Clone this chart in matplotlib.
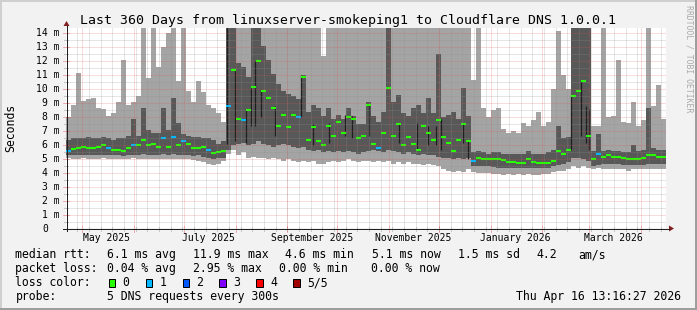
import datetime as dt
import numpy as np
import matplotlib
matplotlib.use("Agg")
import matplotlib.pyplot as plt
from matplotlib.patches import Rectangle, Polygon

plt.rcParams['font.family'] = 'DejaVu Sans Mono'

W, H = 697, 310
START = dt.datetime(2025, 4, 21, 13, 16, 27)
END = dt.datetime(2026, 4, 16, 13, 16, 27)
DAYS = 360
STEP = 3  # days per column in the arrays below

# smoke bands in ms: outer = min..max ping, inner = 2nd..4th ping
light_top = [7.9, 8.8, 11.1, 9.1, 9.2, 9.3, 8.6, 8.5, 8.0, 8.2,
             9.0, 12.0, 8.8, 9.0, 9.4, 14.3, 10.7, 14.3, 11.5, 12.9,
             13.9, 14.3, 10.5, 14.3, 9.8, 9.0, 10.5, 9.7, 8.8, 8.6,
             8.2, 7.6, 14.3, 14.3, 14.3, 14.3, 14.3, 14.3, 14.3, 14.3,
             14.3, 14.3, 14.3, 14.3, 14.3, 14.3, 14.3, 14.3, 14.3, 14.3,
             14.3, 12.3, 14.3, 14.3, 14.3, 14.3, 14.3, 14.3, 14.3, 14.3,
             14.3, 14.3, 14.3, 14.3, 14.3, 14.3, 14.3, 14.3, 14.3, 14.3,
             14.3, 14.3, 14.3, 14.3, 14.3, 14.3, 14.3, 14.3, 14.3, 14.3,
             14.3, 10.6, 14.3, 8.6, 7.9, 8.4, 8.6, 7.1, 6.8, 6.9,
             6.8, 7.5, 7.3, 7.7, 8.3, 7.3, 7.6, 9.9, 14.1, 10.9,
             9.9, 14.3, 14.3, 14.3, 14.3, 7.3, 7.3, 14.3, 7.9, 8.0,
             12.0, 7.6, 7.5, 9.0, 7.3, 7.7, 14.3, 8.7, 10.2, 7.8]
light_bot = [5.0, 4.95, 4.95, 5.0, 4.95, 4.9, 4.95, 5.0, 4.95, 4.95,
             4.9, 4.95, 4.95, 5.0, 4.95, 4.9, 4.95, 4.9, 4.95, 4.9,
             4.95, 4.95, 4.9, 4.95, 4.9, 4.85, 4.8, 4.7, 4.6, 4.5,
             4.6, 4.8, 5.3, 5.6, 5.2, 5.4, 5.0, 5.1, 5.0, 5.0,
             4.9, 5.0, 4.9, 4.8, 4.9, 4.8, 4.7, 4.8, 4.7, 4.8,
             4.6, 4.6, 4.7, 4.8, 4.7, 4.8, 4.9, 4.8, 4.7, 4.8,
             4.8, 4.7, 4.8, 4.7, 4.8, 4.6, 4.7, 4.6, 4.7, 4.6,
             4.6, 4.5, 4.6, 4.5, 4.4, 4.2, 4.1, 4.0, 4.1, 4.0,
             4.2, 4.0, 3.9, 3.95, 3.9, 3.85, 3.85, 3.8, 3.85, 3.8,
             3.85, 3.8, 3.85, 3.8, 3.8, 3.85, 3.85, 4.0, 4.1, 4.1,
             4.2, 4.4, 4.3, 4.4, 4.3, 4.2, 4.3, 4.2, 4.2, 4.25,
             4.2, 4.2, 4.1, 4.2, 4.2, 4.25, 4.2, 4.2, 4.25, 4.2]
dark_top = [6.3, 6.4, 6.4, 6.4, 6.5, 6.4, 6.4, 6.5, 6.4, 6.3,
            6.4, 6.4, 6.6, 7.8, 6.6, 8.6, 7.0, 6.8, 6.8, 8.6,
            7.0, 9.3, 7.5, 6.7, 6.6, 6.5, 6.5, 6.4, 6.4, 6.3,
            6.0, 6.2, 14.3, 14.3, 11.8, 11.5, 10.8, 14.3, 14.3, 13.0,
            12.0, 11.0, 10.3, 9.8, 9.6, 9.4, 9.2, 10.9, 8.3, 8.8,
            8.6, 8.0, 8.6, 7.8, 8.1, 7.8, 8.6, 8.0, 7.4, 7.4,
            9.0, 8.0, 7.6, 8.3, 14.3, 9.0, 9.5, 8.2, 8.0, 8.6,
            8.8, 8.2, 9.3, 8.2, 12.4, 7.9, 8.1, 8.3, 7.8, 10.0,
            8.0, 5.4, 5.5, 5.4, 5.3, 5.4, 5.4, 5.3, 5.3, 5.3,
            5.3, 5.3, 5.5, 5.3, 5.3, 5.3, 5.4, 5.6, 7.3, 6.4,
            6.5, 14.3, 14.3, 14.3, 14.3, 5.5, 6.7, 5.5, 5.6, 5.5,
            5.5, 5.4, 5.4, 5.9, 5.5, 5.6, 8.6, 5.7, 5.6, 5.6]
dark_bot = [5.2, 5.2, 5.25, 5.2, 5.25, 5.2, 5.2, 5.25, 5.2, 5.2,
            5.2, 5.15, 5.2, 5.25, 5.2, 5.3, 5.2, 5.25, 5.2, 5.3,
            5.2, 5.3, 5.25, 5.2, 5.2, 5.15, 5.2, 5.1, 5.0, 4.95,
            5.0, 5.0, 5.6, 5.9, 6.0, 6.1, 5.9, 6.0, 6.2, 6.0,
            5.9, 5.8, 5.9, 6.0, 5.9, 5.8, 5.7, 5.8, 5.6, 5.5,
            5.6, 5.4, 5.5, 5.4, 5.5, 5.4, 5.5, 5.4, 5.3, 5.4,
            5.5, 5.6, 5.5, 5.4, 5.6, 5.5, 5.4, 5.3, 5.4, 5.3,
            5.2, 5.3, 5.2, 5.2, 5.1, 5.0, 5.0, 4.9, 5.0, 4.9,
            5.0, 4.4, 4.4, 4.45, 4.4, 4.35, 4.3, 4.3, 4.3, 4.3,
            4.3, 4.3, 4.3, 4.3, 4.3, 4.3, 4.3, 4.4, 4.5, 4.6,
            4.7, 5.0, 5.0, 4.9, 4.8, 4.4, 4.5, 4.6, 4.6, 4.6,
            4.6, 4.5, 4.5, 4.5, 4.5, 4.5, 4.6, 4.6, 4.6, 4.6]
median = [5.5, 5.65, 5.75, 5.8, 5.7, 5.75, 5.8, 5.9, 5.7, 5.6,
          5.6, 5.5, 5.7, 5.95, 5.95, 6.3, 5.9, 6.0, 5.8, 6.4,
          5.8, 6.5, 5.9, 6.2, 6.0, 5.7, 5.75, 5.8, 5.55, 5.35,
          5.4, 5.5, 8.7, 11.3, 7.8, 7.7, 8.4, 10.1, 11.9, 9.8,
          9.3, 8.6, 7.3, 8.1, 7.2, 8.1, 7.9, 10.8, 6.3, 7.2,
          6.2, 5.9, 7.3, 6.6, 7.6, 6.8, 7.9, 7.8, 6.4, 6.6,
          8.8, 6.0, 5.7, 6.8, 10.0, 6.6, 7.4, 5.9, 6.5, 6.0,
          5.6, 7.3, 6.8, 6.3, 7.7, 6.5, 6.1, 5.5, 6.3, 7.4,
          6.2, 4.8, 5.0, 4.95, 4.9, 4.9, 4.95, 4.85, 4.75, 4.75,
          4.65, 4.65, 4.95, 4.7, 4.67, 4.67, 4.67, 4.8, 5.5, 5.3,
          5.6, 9.4, 9.8, 10.5, 6.6, 4.9, 5.3, 5.1, 5.25, 5.1,
          5.05, 5.0, 4.95, 4.95, 4.95, 5.0, 5.2, 5.2, 5.1, 5.1]
# packets lost (of 5) per column
loss = [1, 0, 0, 0, 0, 0, 0, 0, 1, 0,
        0, 0, 0, 1, 0, 0, 0, 0, 0, 1,
        0, 1, 0, 1, 0, 0, 0, 0, 1, 0,
        0, 0, 1, 0, 0, 1, 0, 0, 0, 0,
        0, 0, 0, 0, 0, 0, 1, 0, 0, 0,
        0, 0, 0, 0, 0, 0, 0, 0, 0, 0,
        0, 0, 1, 0, 0, 0, 0, 0, 0, 0,
        0, 0, 0, 0, 0, 0, 0, 0, 0, 0,
        0, 1, 0, 0, 0, 0, 0, 0, 0, 0,
        0, 0, 0, 0, 0, 0, 0, 0, 0, 0,
        0, 0, 0, 0, 0, 0, 1, 0, 0, 0,
        0, 0, 0, 0, 0, 0, 0, 0, 0, 0]

# thin near-black streaks (day offset, low ms, high ms)
streak_day = [96.4, 101.4, 108.2, 111.2, 113.2, 117.2, 125.2, 140.8, 148.0, 157.8,
              167.4, 171.8, 182.0, 199.8, 210.8, 217.4, 222.0, 224.8, 238.2, 241.2,
              302.8, 308.8, 311.8, 314.0]
streak_lo = [6.0, 6.2, 6.1, 7.3, 7.3, 7.9, 6.6, 7.9, 5.9, 6.1,
             6.6, 6.45, 6.6, 6.1, 5.6, 5.9, 5.9, 5.6, 6.1, 4.9,
             5.6, 6.6, 6.1, 5.6]
streak_hi = [14.3, 11.3, 8.4, 10.0, 11.9, 9.9, 8.7, 10.9, 7.4, 7.5,
             8.1, 8.0, 8.8, 7.4, 7.5, 7.3, 7.3, 7.8, 7.4, 6.2,
             9.4, 10.5, 8.7, 8.5]

loss_colors = ['#26ff00', '#00b8ff', '#0059ff', '#7e00ff', '#ff0000', '#a10000']
loss_labels = ['0', '1', '2', '3', '4', '5/5']

# rrdtool-like palette
BACK = '#f2f2f2'
SHADEA = '#cfcfcf'
SHADEB = '#9e9e9e'
GRID = (0.56, 0.56, 0.56, 0.45)
MGRID = (0.87, 0.31, 0.31, 0.40)
ARROW = '#801f1f'
AXIS = '#1f1f1f'

X0, X1, Y0, Y1 = 66, 666, 28, 228   # plot box, pixels from top-left
PX_PER_MS = 14.0


def day_of(d):
    return (d - START).total_seconds() / 86400.0


def px_x(day):
    return X0 + day * (X1 - X0) / DAYS


def px_y(ms):
    return Y1 - ms * PX_PER_MS


fig = plt.figure(figsize=(W / 100, H / 100), dpi=100, facecolor=BACK)
ax = fig.add_axes([X0 / W, 1 - Y1 / H, (X1 - X0) / W, (Y1 - Y0) / H])
ax.set_xlim(0, DAYS)
ax.set_ylim(0, (Y1 - Y0) / PX_PER_MS)
ax.set_facecolor('white')
for s in ax.spines.values():
    s.set_visible(False)
ax.set_xticks([])
ax.set_yticks([])

edges = np.arange(len(median) + 1) * STEP
ext = lambda a: np.append(a, a[-1])
ax.fill_between(edges, ext(light_bot), ext(light_top), step='post',
                color='#a4a4a4', lw=0, zorder=1)
ax.fill_between(edges, ext(dark_bot), ext(dark_top), step='post',
                color='#585858', lw=0, zorder=2)
ax.vlines(streak_day, streak_lo, streak_hi, color='#1e1e1e', lw=0.9, zorder=3)
ax.hlines(median, edges[:-1], edges[1:], colors=[loss_colors[l] for l in loss],
          lw=1.5, zorder=4, capstyle='butt')

# overlay in pixel coordinates for grid, axes, text
ov = fig.add_axes([0, 0, 1, 1], zorder=5)
ov.set_xlim(0, W)
ov.set_ylim(H, 0)
ov.axis('off')
ov.patch.set_alpha(0)

dots = (0, (1, 1))
lw1 = 0.72

# horizontal grid every 0.5 ms, red at whole ms
for k in range(1, 29):
    y = px_y(k * 0.5) + 0.5
    major = k % 2 == 0
    ov.plot([X0, X1], [y, y], color=MGRID if major else GRID, lw=lw1, ls=dots)
    ov.plot([63 if major else 64, 69 if major else 68], [y, y],
            color=MGRID if major else GRID, lw=lw1)

# vertical grid: weeks (minor), months (major)
week = dt.datetime(2025, 4, 28)
while week < END:
    x = int(px_x(day_of(week))) + 0.5
    ov.plot([x, x], [Y0, Y1], color=GRID, lw=lw1, ls=dots)
    ov.plot([x, x], [226.5, 230.5], color=GRID, lw=lw1)
    week += dt.timedelta(days=7)

month_starts = [dt.datetime(2025 + (m - 1) // 12, (m - 1) % 12 + 1, 1) for m in range(5, 17)]
for d in month_starts:
    x = int(px_x(day_of(d))) + 0.5
    ov.plot([x, x], [Y0, Y1], color=MGRID, lw=lw1, ls=dots)
    ov.plot([x, x], [225.5, 231.5], color=MGRID, lw=lw1)

# axes and arrows
ov.plot([66.5, 66.5], [231, 26], color=AXIS, lw=lw1)
ov.plot([63, 669], [228.5, 228.5], color=AXIS, lw=lw1)
ov.add_patch(Polygon([[63.5, 26], [69.5, 26], [66.5, 21]], closed=True, color=ARROW, lw=0))
ov.add_patch(Polygon([[669, 225.5], [669, 231.5], [674, 228.5]], closed=True, color=ARROW, lw=0))

# y labels
for v in range(1, 15):
    ov.text(60, px_y(v) + 3.6, f'{v} m', fontsize=7, ha='right', va='baseline')
ov.text(48.5, px_y(0) + 3.6, '0', fontsize=7, ha='right', va='baseline')

# x labels, centred mid-month like rrdtool
for d in [dt.datetime(2025, 5, 16), dt.datetime(2025, 7, 16), dt.datetime(2025, 9, 16),
          dt.datetime(2025, 11, 16), dt.datetime(2026, 1, 16), dt.datetime(2026, 3, 16)]:
    label = d.strftime('%B %Y')
    ov.text(px_x(day_of(d)), 240.7, label, fontsize=7, ha='center', va='baseline')

ov.text(348, 24, 'Last 360 Days from linuxserver-smokeping1 to Cloudflare DNS 1.0.0.1',
        fontsize=9.5, ha='center', va='baseline')
ov.text(10.5, 128, 'Seconds', fontsize=8.3, rotation=90, ha='center', va='center')
ov.text(688.5, 59, 'RRDTOOL / TOBI OETIKER', fontsize=5.9, rotation=270,
        ha='center', va='center', color='#aaaaaa')

# legend
FS = 8.3
rows = [
    (258.3, [(16, 'median rtt:'), (107.3, '6.1 ms avg'), (193.3, '11.9 ms max'),
             (286, '4.6 ms min'), (372.7, '5.1 ms now'), (459, '1.5 ms sd'),
             (536.7, '4.2'), (579.3, 'am/s')]),
    (271.7, [(16, 'packet loss:'), (107.3, '0.04 % avg'), (193.3, '2.95 % max'),
             (279.3, '0.00 % min'), (371.7, '0.00 % now')]),
    (286, [(16, 'loss color:')]),
    (299.7, [(16, 'probe:'), (107.3, '5 DNS requests every 300s')]),
]
for y, items in rows:
    for x, s in items:
        ov.text(x - 0.6, y, s, fontsize=FS, ha='left', va='baseline')

for i, (c, lab) in enumerate(zip(loss_colors, loss_labels)):
    bx = 108.7 + i * 36.9
    ov.add_patch(Rectangle((bx, 278.5), 6.6, 8, facecolor=c, edgecolor='black', lw=0.72))
    ov.text(bx + 14.0, 286, lab, fontsize=FS, ha='left', va='baseline')

ov.text(680.5, 299.7, 'Thu Apr 16 13:16:27 2026', fontsize=FS, ha='right', va='baseline')

# 3d frame
ov.add_patch(Rectangle((0, 0), W, 2, color=SHADEA, lw=0))
ov.add_patch(Rectangle((0, 0), 2, H, color=SHADEA, lw=0))
ov.add_patch(Rectangle((0, H - 2), W, 2, color=SHADEB, lw=0))
ov.add_patch(Rectangle((W - 2, 0), 2, H, color=SHADEB, lw=0))

fig.savefig('out.png', dpi=100, facecolor=BACK)
